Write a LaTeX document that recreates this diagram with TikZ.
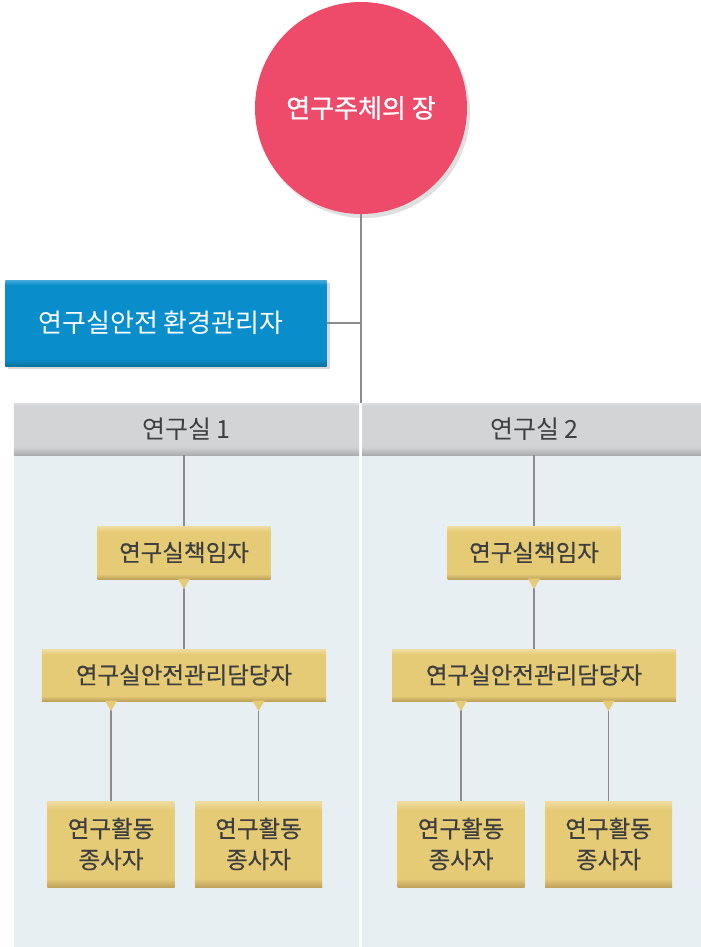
\documentclass[tikz,border=0pt]{standalone}
\usepackage{fontspec}
\setmainfont{Noto Sans CJK KR}
\newfontfamily\krmed[FakeBold=0.5]{Noto Sans CJK KR}
\newfontfamily\krbold[FakeBold=1.0]{Noto Sans CJK KR}
\usetikzlibrary{shadows,calc}
\definecolor{cHead}{HTML}{EE4A69}
\definecolor{cBlue}{HTML}{0A8ECB}
\definecolor{cBlueT}{HTML}{45ABDB}
\definecolor{cBlueB}{HTML}{08719F}
\definecolor{cLine}{HTML}{8C8C8E}
\definecolor{cPanel}{HTML}{E8EFF3}
\definecolor{cHdr}{HTML}{D3D4D6}
\definecolor{cHdrT}{HTML}{DDDEE0}
\definecolor{cHdrB}{HTML}{ABACAE}
\definecolor{cYel}{HTML}{E6CB77}
\definecolor{cYelT}{HTML}{EFDCA2}
\definecolor{cYelB}{HTML}{BFA25C}
\definecolor{cTxt}{HTML}{3E3E3E}
\pgfdeclareverticalshading{blueshade}{100bp}{color(0bp)=(cBlueB); color(25bp)=(cBlueB); color(29bp)=(cBlue); color(72bp)=(cBlue); color(75bp)=(cBlueT); color(100bp)=(cBlueT)}
\pgfdeclareverticalshading{hdrshade}{100bp}{color(0bp)=(cHdrB); color(25bp)=(cHdrB); color(33bp)=(cHdr); color(72bp)=(cHdr); color(75bp)=(cHdrT); color(100bp)=(cHdrT)}
\pgfdeclareverticalshading{yelshade}{100bp}{color(0bp)=(cYelB); color(25bp)=(cYelB); color(30bp)=(cYel); color(70bp)=(cYel); color(75bp)=(cYelT); color(100bp)=(cYelT)}
\begin{document}
\begin{tikzpicture}[x=1bp,y=-1bp,
  conn/.style={draw=cLine,line width=1.4bp},
  headnode/.style={circle,minimum size=212bp,inner sep=0pt,fill=cHead,
    text=white,font=\krbold\fontsize{26bp}{30bp}\selectfont,
    drop shadow={opacity=0.25,shadow xshift=3bp,shadow yshift=-4bp}},
  bluebox/.style={rectangle,minimum width=321bp,minimum height=86bp,inner sep=0pt,
    shading=blueshade,text=white,
    font=\fontsize{26bp}{30bp}\selectfont,
    drop shadow={opacity=0.3,shadow xshift=3bp,shadow yshift=-3bp}},
  hdr/.style={rectangle,minimum width=345bp,minimum height=52bp,inner sep=0pt,
    shading=hdrshade,text=cTxt,
    font=\fontsize{25bp}{28bp}\selectfont},
  ybox/.style={rectangle,inner sep=0pt,align=center,
    shading=yelshade,text=cTxt,
    font=\krmed\fontsize{23.5bp}{31bp}\selectfont},
  tri/.style={fill=cYel}
]
\clip (0,0) rectangle (701,947);
\fill[white] (0,0) rectangle (701,947);
% panels
\fill[cPanel] (14,455) rectangle (359,947);
\fill[cPanel] (362,455) rectangle (710,947);
\node[hdr] (h1) at (186.5,429) {연구실 1};
\node[hdr] (h2) at (534.5,429) {연구실 2};
% top
\node[headnode] (head) at (361,108) {연구주체의 장};
\node[bluebox] (blue) at (166,323) {\hspace*{-10bp}연구실안전 환경관리자};
\draw[conn] (head.south) -- (head.south |- h1.north);
\draw[conn] (blue.east) -- (blue.east -| head.south);
% panel 1
\node[ybox,minimum width=173bp,minimum height=53bp] (r1) at (184,552.5) {연구실책임자};
\node[ybox,minimum width=284bp,minimum height=52bp] (m1) at (184,675) {연구실안전관리담당자};
\node[ybox,minimum width=127bp,minimum height=86bp] (w1a) at (111,844) {연구활동\\종사자};
\node[ybox,minimum width=127bp,minimum height=86bp] (w1b) at (258.5,844) {연구활동\\종사자};
% panel 2
\node[ybox,minimum width=173bp,minimum height=53bp] (r2) at (534,552.5) {연구실책임자};
\node[ybox,minimum width=284bp,minimum height=52bp] (m2) at (534,675) {연구실안전관리담당자};
\node[ybox,minimum width=127bp,minimum height=86bp] (w2a) at (461,844) {연구활동\\종사자};
\node[ybox,minimum width=127bp,minimum height=86bp] (w2b) at (608.5,844) {연구활동\\종사자};
% connectors
\foreach \h/\r/\m/\a/\b in {h1/r1/m1/w1a/w1b, h2/r2/m2/w2a/w2b}{
  \draw[conn] (\r.north |- \h.south) -- (\r.north);
  \draw[conn] (\r.south) -- (\r.south |- \m.north);
  \draw[conn] (\a.north |- \m.south) -- (\a.north);
  \draw[conn] (\b.north |- \m.south) -- (\b.north);
  \fill[tri] (\r.south) +(-6,-0.5) -- +(6,-0.5) -- +(0,10) -- cycle;
  \fill[tri] (\a.north |- \m.south) +(-6,-0.5) -- +(6,-0.5) -- +(0,10) -- cycle;
  \fill[tri] (\b.north |- \m.south) +(-6,-0.5) -- +(6,-0.5) -- +(0,10) -- cycle;
}
\end{tikzpicture}
\end{document}
